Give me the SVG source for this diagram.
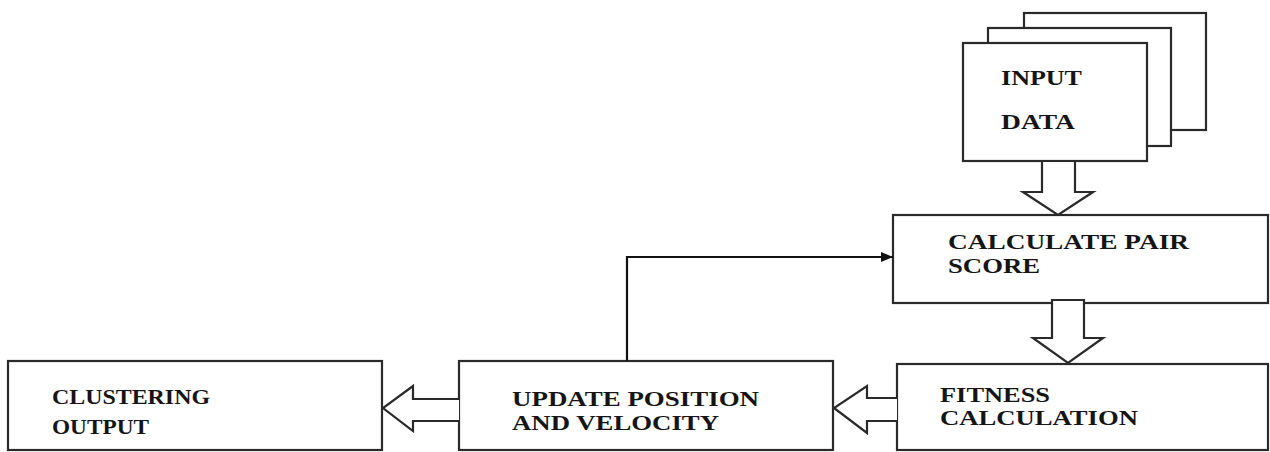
<svg xmlns="http://www.w3.org/2000/svg" width="1270" height="452" viewBox="0 0 1270 452">
<style>
.box{fill:#fff;stroke:#2a2a2a;stroke-width:2.2}
.blk{fill:#fff;stroke:#2a2a2a;stroke-width:2.2;stroke-linejoin:miter}
.lbl{font-family:"Liberation Serif","Times New Roman",serif;font-weight:bold;font-size:20.5px;fill:#151515}
.ln{fill:none;stroke:#111;stroke-width:2.2}
</style>
<defs>
<marker id="ah" markerWidth="12" markerHeight="10" refX="12" refY="5" orient="auto" markerUnits="userSpaceOnUse" viewBox="0 0 12 10">
<path d="M0,0 L12,5 L0,10 z" fill="#111"/>
</marker>
</defs>
<rect width="1270" height="452" fill="#fff"/>
<g id="input-data">
<rect class="box" x="1024" y="13" width="182" height="117"/>
<rect class="box" x="988" y="28" width="183" height="118"/>
<rect class="box" x="963" y="43" width="184" height="118"/>
<text class="lbl" transform="translate(1001,85) scale(1.25,1)" textLength="64.8" lengthAdjust="spacingAndGlyphs">INPUT</text>
<text class="lbl" transform="translate(1001,129) scale(1.25,1)" textLength="59.2" lengthAdjust="spacingAndGlyphs">DATA</text>
</g>
<g id="calculate-pair-score">
<rect class="box" x="893" y="215" width="375" height="88"/>
<text class="lbl" transform="translate(948,249) scale(1.25,1)" textLength="192.8" lengthAdjust="spacingAndGlyphs">CALCULATE PAIR</text>
<text class="lbl" transform="translate(948,273) scale(1.25,1)" textLength="73.6" lengthAdjust="spacingAndGlyphs">SCORE</text>
</g>
<g id="fitness-calculation">
<rect class="box" x="897" y="364" width="371" height="86"/>
<text class="lbl" transform="translate(940,402) scale(1.25,1)" textLength="88" lengthAdjust="spacingAndGlyphs">FITNESS</text>
<text class="lbl" transform="translate(940,425) scale(1.25,1)" textLength="158.4" lengthAdjust="spacingAndGlyphs">CALCULATION</text>
</g>
<g id="update-position">
<rect class="box" x="459" y="361" width="374" height="89"/>
<text class="lbl" transform="translate(512,406) scale(1.25,1)" textLength="197.6" lengthAdjust="spacingAndGlyphs">UPDATE POSITION</text>
<text class="lbl" transform="translate(512,430) scale(1.25,1)" textLength="165.6" lengthAdjust="spacingAndGlyphs">AND VELOCITY</text>
</g>
<g id="clustering-output">
<rect class="box" x="8" y="361" width="374" height="89"/>
<text class="lbl" transform="translate(52,404) scale(1.25,1)" textLength="126.4" lengthAdjust="spacingAndGlyphs">CLUSTERING</text>
<text class="lbl" transform="translate(52,434) scale(1.25,1)" textLength="77.6" lengthAdjust="spacingAndGlyphs">OUTPUT</text>
</g>
<g id="connectors">
<path class="blk" d="M1042,161 L1075,161 L1075,192 L1093,192 L1058,215 L1023,192 L1042,192 Z"/>
<path class="blk" d="M1052,300 L1084,300 L1084,338 L1103,338 L1068,363 L1033,338 L1052,338 Z"/>
<path class="blk" d="M897,398 L867,398 L867,386 L834,408 L867,433 L867,421 L897,421"/>
<path class="blk" d="M459,399 L413,399 L413,386 L383,408 L413,431 L413,421 L459,421"/>
<path class="ln" d="M627,361 L627,257 L893,257" marker-end="url(#ah)"/>
</g>
</svg>
